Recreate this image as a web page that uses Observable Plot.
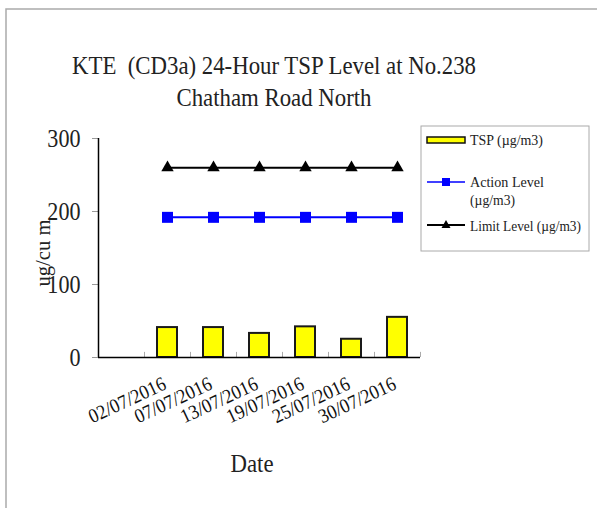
<!DOCTYPE html>
<html>
<head>
<meta charset="utf-8">
<script src="https://cdn.jsdelivr.net/npm/d3@7"></script>
<script src="https://cdn.jsdelivr.net/npm/@observablehq/plot@0.6"></script>
<style>
  html, body { margin: 0; padding: 0; background: #fff; }
  #chart { position: relative; width: 597px; height: 508px; overflow: hidden; }
  text { font-family: "Liberation Serif", "Times New Roman", serif; }
</style>
</head>
<body>
<div id="chart"></div>
<script>
// ---- data ----
const dates = ["02/07/2016", "07/07/2016", "13/07/2016", "19/07/2016", "25/07/2016", "30/07/2016"];
const tspValues = [41, 41, 33, 42, 25, 55];
const actionLevel = [192, 192, 192, 192, 192, 192];
const limitLevel = [260, 260, 260, 260, 260, 260];
const yTicks = [0, 100, 200, 300];
const xDomain = ["", ...dates];
const titleLines = ["KTE  (CD3a) 24-Hour TSP Level at No.238", "Chatham Road North"];
const yLabel = "ug/cu m";
const xLabel = "Date";
const legendLabels = ["TSP (µg/m3)", "Action Level", "(µg/m3)", "Limit Level (µg/m3)"];

const rows = dates.map((d, i) => ({date: d, tsp: tspValues[i], action: actionLevel[i], limit: limitLevel[i]}));
const FONT = '"Liberation Serif", "Times New Roman", serif';

const plot = Plot.plot({
  width: 597,
  height: 508,
  marginLeft: 98,
  marginRight: 177,
  marginTop: 138,
  marginBottom: 151,
  style: {fontFamily: FONT, background: "white"},
  x: {domain: xDomain, paddingInner: 0.57, paddingOuter: 0.285, axis: null},
  y: {domain: [0, 300], axis: null},
  marks: [
    Plot.axisY({ticks: yTicks, tickSize: 6, tickPadding: 12, stroke: "#999", fill: "#222", fontSize: 26, label: null}),
    Plot.ruleX(dates, {x: d => d, dx: -23, y1: 0, y2: 7, stroke: "#aaa"}),
    Plot.ruleX([dates[dates.length - 1]], {x: d => d, dx: 23, y1: 0, y2: 7, stroke: "#aaa"}),
    Plot.barY(rows, {x: "date", y: "tsp", fill: "#ffff00", stroke: "#1a1a1a", strokeWidth: 2}),
    Plot.ruleY([0], {stroke: "#000", strokeWidth: 1.5}),
    Plot.ruleX([""], {x: d => d, dx: -23, y1: 0, y2: 300, stroke: "#000", strokeWidth: 1.5}),
    Plot.line(rows, {x: "date", y: "limit", stroke: "#000", strokeWidth: 2}),
    Plot.dot(rows, {x: "date", y: "limit", symbol: "triangle", r: 4.6, fill: "#000", stroke: "none"}),
    Plot.line(rows, {x: "date", y: "action", stroke: "#0000ff", strokeWidth: 2}),
    Plot.dot(rows, {x: "date", y: "action", symbol: "square", r: 6.2, fill: "#0000ff", stroke: "none"}),
    Plot.text(dates, {x: d => d, frameAnchor: "bottom", dy: 31, dx: 0, rotate: -25, textAnchor: "end", lineAnchor: "bottom", fontSize: 20, fill: "#111"})
  ]
});

document.getElementById("chart").append(plot);
const svg = d3.select(plot);

// condense tick labels
svg.selectAll('[aria-label="y-axis tick label"] text').each(function() {
  const w = this.getComputedTextLength();
  this.setAttribute("textLength", w * 0.85);
  this.setAttribute("lengthAdjust", "spacingAndGlyphs");
});
svg.selectAll('g[aria-label="text"] text').each(function() {
  this.setAttribute("textLength", 83);
  this.setAttribute("lengthAdjust", "spacingAndGlyphs");
});

const deco = svg.append("g").attr("font-family", FONT).attr("fill", "#222").attr("text-anchor", "start");

// outer border
deco.append("path").attr("d", "M6,508V9H597").attr("fill", "none").attr("stroke", "#aaa").attr("stroke-width", 1.5);

// title
const tl = [[404, 74], [195, 106]];
titleLines.forEach((t, i) => {
  deco.append("text").attr("x", 274).attr("y", tl[i][1]).attr("text-anchor", "middle")
    .attr("font-size", 25).attr("textLength", tl[i][0]).attr("lengthAdjust", "spacingAndGlyphs")
    .style("white-space", "pre").text(t);
});

// axis labels
deco.append("text").attr("transform", "translate(50,253) rotate(-90)").attr("text-anchor", "middle")
  .attr("font-size", 22).attr("textLength", 67).attr("lengthAdjust", "spacingAndGlyphs").text(yLabel);
deco.append("text").attr("x", 252).attr("y", 472).attr("text-anchor", "middle")
  .attr("font-size", 26).attr("textLength", 43).attr("lengthAdjust", "spacingAndGlyphs").text(xLabel);

// legend
const lg = deco.append("g");
lg.append("rect").attr("x", 421).attr("y", 126).attr("width", 168).attr("height", 125)
  .attr("fill", "#fff").attr("stroke", "#aaa").attr("stroke-width", 1);
lg.append("rect").attr("x", 427).attr("y", 137).attr("width", 38).attr("height", 6)
  .attr("fill", "#ffff00").attr("stroke", "#111").attr("stroke-width", 1.5);
lg.append("line").attr("x1", 427).attr("x2", 465).attr("y1", 182).attr("y2", 182).attr("stroke", "#0000ff").attr("stroke-width", 1.5);
lg.append("rect").attr("x", 442).attr("y", 178).attr("width", 8).attr("height", 8).attr("fill", "#0000ff");
lg.append("line").attr("x1", 427).attr("x2", 465).attr("y1", 225).attr("y2", 225).attr("stroke", "#000").attr("stroke-width", 2);
lg.append("path").attr("d", "M446,220L450.5,228H441.5Z").attr("fill", "#000");
const lt = [[145, 73], [187, 74], [205, 45], [231, 111]];
legendLabels.forEach((t, i) => {
  lg.append("text").attr("x", 470).attr("y", lt[i][0]).attr("font-size", i === 3 ? 14.5 : 15.5).attr("text-anchor", "start")
    .attr("textLength", lt[i][1]).attr("lengthAdjust", "spacingAndGlyphs").text(t);
});
</script>
</body>
</html>
